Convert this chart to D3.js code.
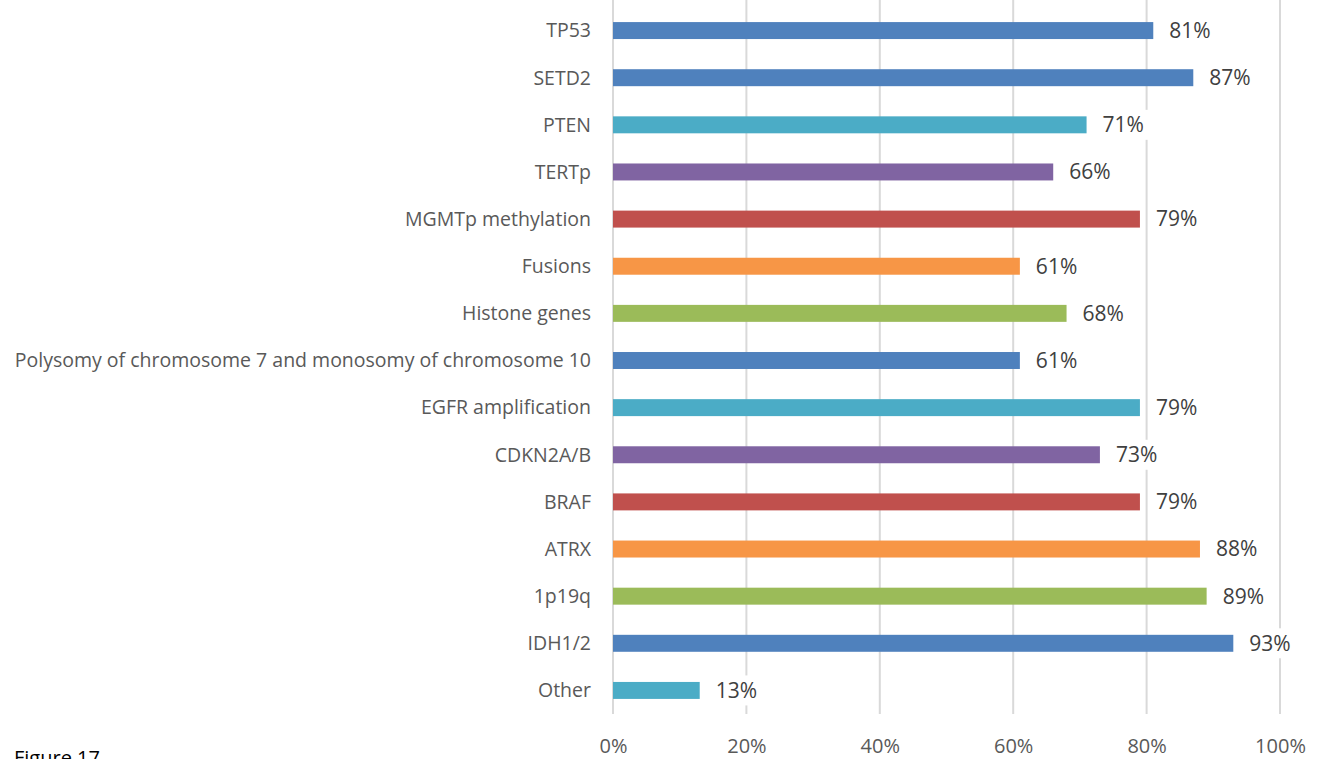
<!DOCTYPE html>
<html>
<head>
<meta charset="utf-8">
<script src="https://cdn.jsdelivr.net/npm/d3@7"></script>
<style>
  body { margin: 0; background: #fff; }
  svg { display: block; font-family: "Open Sans", "Noto Sans", sans-serif; }
  .cat { fill: #595959; font-size: 19.5px; }
  .val { fill: #404040; font-size: 21px; }
  .tick text { fill: #595959; font-size: 20px; }
</style>
</head>
<body>
<svg width="1317" height="759"></svg>
<script>
var categories = ["TP53", "SETD2", "PTEN", "TERTp", "MGMTp methylation", "Fusions",
  "Histone genes", "Polysomy of chromosome 7 and monosomy of chromosome 10",
  "EGFR amplification", "CDKN2A/B", "BRAF", "ATRX", "1p19q", "IDH1/2", "Other"];
var values = [81, 87, 71, 66, 79, 61, 68, 61, 79, 73, 79, 88, 89, 93, 13];
var colors = ["#4F81BD", "#4F81BD", "#4BACC6", "#8064A2", "#C0504D", "#F79646",
  "#9BBB59", "#4F81BD", "#4BACC6", "#8064A2", "#C0504D", "#F79646",
  "#9BBB59", "#4F81BD", "#4BACC6"];
var ticks = [0, 20, 40, 60, 80, 100];

var svg = d3.select("svg"),
    plotLeft = 613, plotRight = 1280, plotTop = 7, plotBottom = 714;

var x = d3.scaleLinear().domain([0, 100]).range([plotLeft, plotRight]);
var y = d3.scaleBand().domain(categories).range([plotTop, plotBottom]).paddingInner(0.64).paddingOuter(0.32);

// gridlines
svg.selectAll(".grid")
    .data(ticks)
  .enter().append("line")
    .attr("class", "grid")
    .attr("x1", function(d) {return x(d)})
    .attr("x2", function(d) {return x(d)})
    .attr("y1", 0)
    .attr("y2", plotBottom)
    .style("stroke", "#D9D9D9")
    .style("stroke-width", 2);

var xAxis = svg.append("g")
    .attr("transform", "translate(0," + (plotBottom + 22) + ")")
    .call(d3.axisBottom(x).tickValues(ticks).tickSize(0).tickFormat(function(d) {return d + "%"}));
xAxis.select(".domain").remove();
xAxis.attr("font-family", null).attr("font-size", null);
xAxis.selectAll("text").attr("dy", "0.71em");

svg.selectAll(".bar")
    .data(values)
  .enter().append("rect")
    .attr("class", "bar")
    .attr("x", x(0))
    .attr("y", function(d, i) {return y(categories[i])})
    .attr("width", function(d) {return x(d) - x(0)})
    .attr("height", y.bandwidth())
    .style("fill", function(d, i) {return colors[i]});

svg.selectAll(".cat")
    .data(categories)
  .enter().append("text")
    .attr("class", "cat")
    .attr("x", plotLeft - 22)
    .attr("y", function(d) {return y(d) + y.bandwidth() / 2})
    .attr("dy", "0.35em")
    .attr("text-anchor", "end")
    .text(function(d) {return d});

var lab = svg.selectAll(".lab")
    .data(values)
  .enter().append("g")
    .attr("class", "lab")
    .attr("transform", function(d, i) {return "translate(" + (x(d) + 16) + "," + (y(categories[i]) + y.bandwidth() / 2) + ")"});

lab.append("rect")
    .attr("x", -4)
    .attr("y", -15)
    .attr("width", 50)
    .attr("height", 30)
    .style("fill", "#fff");

lab.append("text")
    .attr("class", "val")
    .attr("dy", "0.35em")
    .text(function(d) {return d + "%"});

svg.append("text")
    .attr("x", 14)
    .attr("y", 765)
    .style("font-size", "20px")
    .style("fill", "#000")
    .text("Figure 17");
</script>
</body>
</html>
